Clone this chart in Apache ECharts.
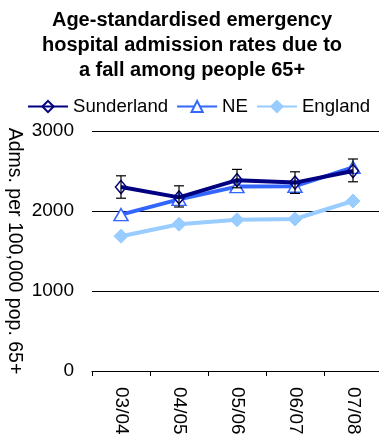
<!DOCTYPE html>
<html>
<head>
<meta charset="utf-8">
<script src="https://cdn.jsdelivr.net/npm/echarts@6/dist/echarts.min.js"></script>
<style>
  html, body { margin: 0; padding: 0; background: #fff; }
  #chart { width: 379px; height: 437px; }
</style>
</head>
<body>
<div id="chart"></div>
<script>
// Financial years
var years = ['03/04', '04/05', '05/06', '06/07', '07/08'];

// Admission rates per 100,000 population aged 65+
var sunderland = [2300, 2170, 2385, 2355, 2500];
var ne = [1955, 2145, 2305, 2310, 2545];
var england = [1685, 1835, 1890, 1900, 2125];

// Sunderland 95% confidence limits
var sunderlandLower = [2160, 2050, 2290, 2220, 2365];
var sunderlandUpper = [2440, 2315, 2520, 2490, 2650];

// Value axis ticks
var yTicks = [0, 1000, 2000, 3000];

var FONT = '"Liberation Sans", Arial, sans-serif';

var errorData = years.map(function (y, i) {
  return [i, sunderlandLower[i], sunderlandUpper[i]];
});

var chart = echarts.init(document.getElementById('chart'));
chart.setOption({
  animation: false,
  backgroundColor: '#ffffff',
  textStyle: { fontFamily: FONT },
  title: {
    text: 'Age-standardised emergency\nhospital admission rates due to\na fall among people 65+',
    left: 192,
    top: 8,
    padding: 0,
    textAlign: 'center',
    textStyle: {
      fontFamily: FONT,
      fontSize: 20,
      fontWeight: 'bold',
      color: '#000',
      lineHeight: 25
    }
  },
  legend: {
    data: ['Sunderland', 'NE', 'England'],
    left: 27,
    top: 97,
    width: 400,
    padding: 0,
    itemWidth: 40,
    itemHeight: 14,
    itemGap: 8,
    textStyle: { fontFamily: FONT, fontSize: 18.6, color: '#000' }
  },
  grid: { left: 92, right: -3, top: 131, bottom: 66, outerBoundsMode: 'none', containLabel: false },
  xAxis: {
    type: 'category',
    data: years,
    boundaryGap: true,
    axisLine: { lineStyle: { color: '#000', width: 1 } },
    axisTick: { show: true, length: 5, lineStyle: { color: '#000' } },
    axisLabel: {
      rotate: -90,
      margin: 16,
      fontFamily: FONT,
      fontSize: 19,
      color: '#000'
    },
    splitLine: { show: false }
  },
  yAxis: {
    type: 'value',
    min: yTicks[0],
    max: yTicks[yTicks.length - 1],
    interval: 1000,
    name: 'Adms. per 100,000 pop. 65+',
    nameLocation: 'middle',
    nameRotate: -90,
    nameGap: 68,
    nameMoveOverlap: false,
    nameTextStyle: { fontFamily: FONT, fontSize: 19.5, color: '#000' },
    axisLine: { show: false },
    axisTick: { show: false },
    axisLabel: {
      margin: 18,
      fontFamily: FONT,
      fontSize: 19,
      color: '#000',
      formatter: function (v) { return String(v); }
    },
    splitLine: { show: true, lineStyle: { color: '#000', width: 1 } }
  },
  series: [
    {
      name: 'England',
      type: 'line',
      data: england,
      z: 2,
      symbol: 'diamond',
      symbolSize: [14, 14],
      lineStyle: { color: '#99ccff', width: 4 },
      itemStyle: { color: '#99ccff', borderColor: '#99ccff', borderWidth: 1 }
    },
    {
      name: 'NE',
      type: 'line',
      data: ne,
      z: 3,
      symbol: 'triangle',
      symbolSize: [14, 12],
      lineStyle: { color: '#3366ff', width: 4 },
      itemStyle: { color: '#ffffff', borderColor: '#3366ff', borderWidth: 1.5 }
    },
    {
      name: 'Sunderland',
      type: 'line',
      data: sunderland,
      z: 4,
      symbol: 'diamond',
      symbolSize: [11, 13],
      lineStyle: { color: '#000080', width: 4 },
      itemStyle: { color: 'rgba(255,255,255,0)', borderColor: '#000080', borderWidth: 1.5 }
    },
    {
      name: 'Sunderland CI',
      type: 'custom',
      z: 5,
      data: errorData,
      renderItem: function (params, api) {
        var x = api.value(0);
        var lo = api.coord([x, api.value(1)]);
        var hi = api.coord([x, api.value(2)]);
        var half = 5;
        var style = { stroke: '#000', lineWidth: 1.2 };
        return {
          type: 'group',
          children: [
            { type: 'line', shape: { x1: lo[0], y1: lo[1], x2: hi[0], y2: hi[1] }, style: style },
            { type: 'line', shape: { x1: hi[0] - half, y1: hi[1], x2: hi[0] + half, y2: hi[1] }, style: style },
            { type: 'line', shape: { x1: lo[0] - half, y1: lo[1], x2: lo[0] + half, y2: lo[1] }, style: style }
          ]
        };
      }
    }
  ]
});
</script>
</body>
</html>
